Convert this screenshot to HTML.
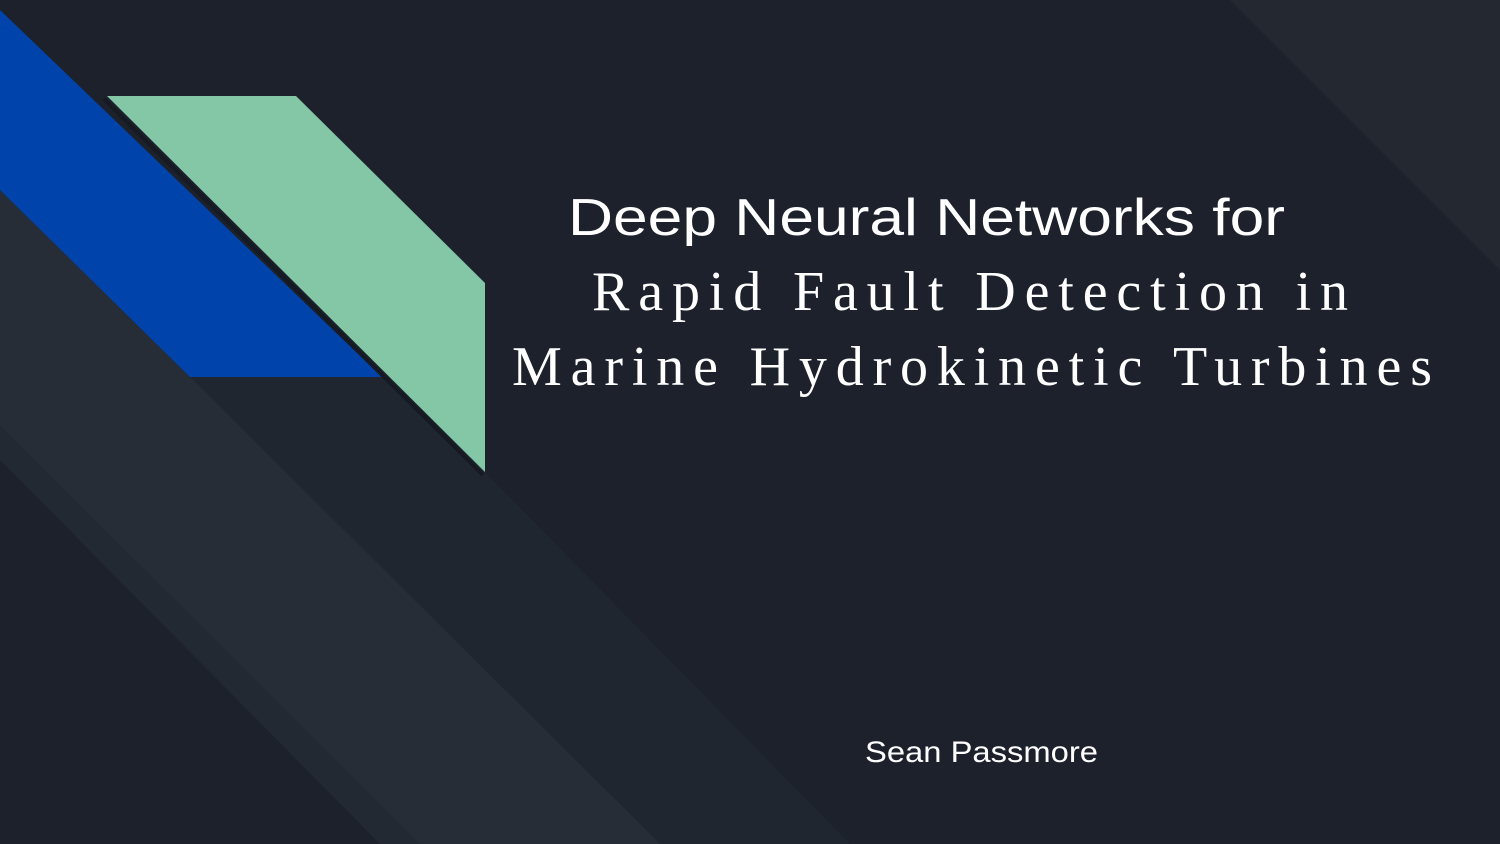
<!DOCTYPE html>
<html><head><meta charset="utf-8"><style>
html,body{margin:0;padding:0;background:#1c212b;}
svg{display:block}
</style></head><body>
<svg width="1500" height="844" viewBox="0 0 1500 844" xmlns="http://www.w3.org/2000/svg">
<rect width="1500" height="844" fill="#1c212b"/>
<polygon points="1230,0 1500,0 1500,270" fill="#232831"/>
<polygon points="0,190 190,377 382,377 485,472 850,844 0,844" fill="#20262f"/>
<polygon points="0,190 190,377 660,844 0,844" fill="#272d37"/>
<polygon points="0,425 420,844 0,844" fill="#232932"/>
<polygon points="0,460 380,844 0,844" fill="#1c212b"/>
<polygon points="0,10 382,377 190,377 0,190" fill="#0044ab"/>
<polygon points="107,96 296,96 485,283 485,472" fill="#83c7a7"/>
<line x1="104" y1="99" x2="483" y2="475" stroke="#161a22" stroke-width="4"/>
<g fill="#ffffff">
<text x="568" y="235" font-family="Liberation Sans, sans-serif" font-size="52" textLength="717" lengthAdjust="spacingAndGlyphs">Deep Neural Networks for</text>
<text x="592" y="310" font-family="Liberation Serif, serif" font-size="56" textLength="756" lengthAdjust="spacing">Rapid Fault Detection in</text>
<text x="512" y="385" font-family="Liberation Serif, serif" font-size="56" textLength="920" lengthAdjust="spacing">Marine Hydrokinetic Turbines</text>
<text x="865" y="762" font-family="Liberation Sans, sans-serif" font-size="30" textLength="233" lengthAdjust="spacingAndGlyphs">Sean Passmore</text>
</g>
</svg>
</body></html>
